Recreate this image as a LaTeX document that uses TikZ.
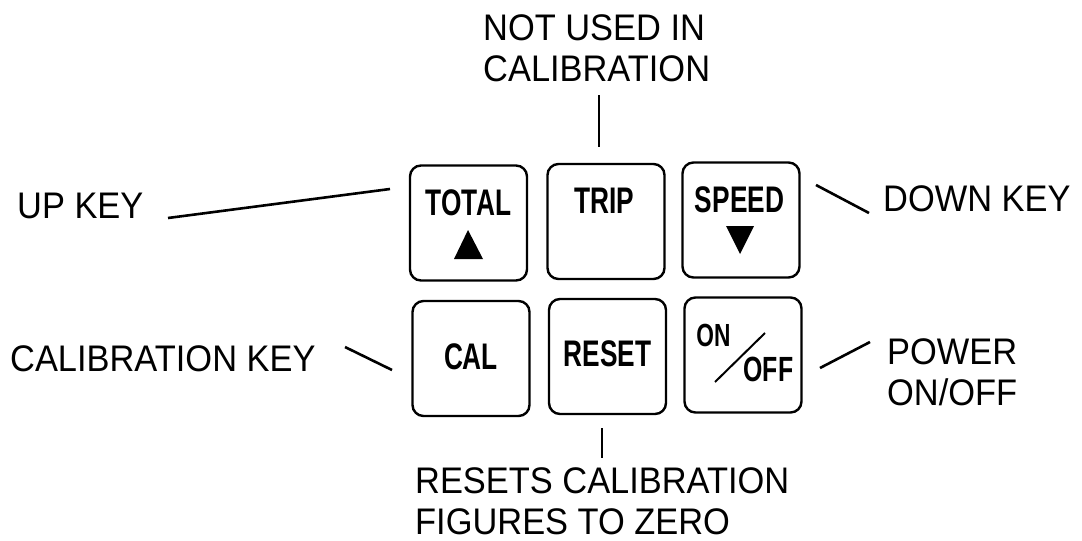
\documentclass[tikz,border=0pt]{standalone}
\usepackage{fontspec}
\setmainfont{Liberation Sans}[FakeStretch=0.93]
\newfontfamily\keyfont{Liberation Sans}[FakeStretch=0.71]
\begin{document}
\begin{tikzpicture}[x=1pt,y=-1pt,
  key/.style={draw, line width=2.4pt, rounded corners=11pt, minimum width=117pt, minimum height=115pt, inner sep=0pt},
  keytext/.style={inner sep=0pt, font=\keyfont\bfseries\fontsize{37}{40}\selectfont},
  lbl/.style={inner sep=0pt, font=\fontsize{37}{41}\selectfont, align=left},
  lead/.style={line width=2.6pt}]
\useasboundingbox[fill=white] (0,0) rectangle (1082,541);
% keys
\node[key] (total) at (468.5,223) {};
\node[key] (trip)  at (606,221.5) {};
\node[key] (speed) at (741,220) {};
\node[key] (cal)   at (471,358.5) {};
\node[key] (reset) at (607.5,356.5) {};
\node[key] (onoff) at (743,355) {};
% key texts
\node[keytext] (totalt) at (468.5,202.5) {TOTAL};
\node[keytext] (tript)  at (604.5,201) {TRIP};
\node[keytext] (speedt) at (739.5,200) {SPEED};
\node[keytext] (calt)   at (471,356.5) {CAL};
\node[keytext] (resett) at (607.5,353.5) {RESET};
\node[keytext, font=\keyfont\bfseries\fontsize{32}{34}\selectfont] (ont) at (713.5,335.5) {ON};
\node[keytext, font=\keyfont\bfseries\fontsize{35}{38}\selectfont] (offt) at (768.5,369.5) {OFF};
\draw[line width=2pt] (715,382) -- (765,333);
\fill (468,230) -- (454,259) -- (483,259) -- cycle;
\fill (726,226) -- (754,226) -- (740,254) -- cycle;
% labels
\node[lbl, anchor=west] (up) at (17,206) {UP KEY};
\node[lbl, anchor=west] (calk) at (10,359) {CALIBRATION KEY};
\node[lbl, anchor=west] (down) at (883,198.5) {DOWN KEY};
\node[lbl, anchor=north west] (power) at (887,338) {POWER\\ON/OFF};
\node[lbl, anchor=north west] (notused) at (483,14) {NOT USED IN\\CALIBRATION};
\node[lbl, anchor=north west] (resets) at (415,467) {RESETS CALIBRATION\\FIGURES TO ZERO};
% leader lines
\coordinate (upA) at (168,218); \coordinate (upB) at (390,189);
\coordinate (ckA) at (345,347); \coordinate (ckB) at (392,370);
\coordinate (dnA) at (816,185); \coordinate (dnB) at (869,213);
\coordinate (pwA) at (820,368); \coordinate (pwB) at (870,342);
\coordinate (nuA) at (599,95);  \coordinate (nuB) at (599,147);
\coordinate (rsA) at (602,428); \coordinate (rsB) at (602,458);
\draw[lead] (upA) -- (upB);
\draw[lead] (ckA) -- (ckB);
\draw[lead] (dnA) -- (dnB);
\draw[lead] (pwA) -- (pwB);
\draw[lead] (nuA) -- (nuB);
\draw[lead] (rsA) -- (rsB);
\end{tikzpicture}
\end{document}
